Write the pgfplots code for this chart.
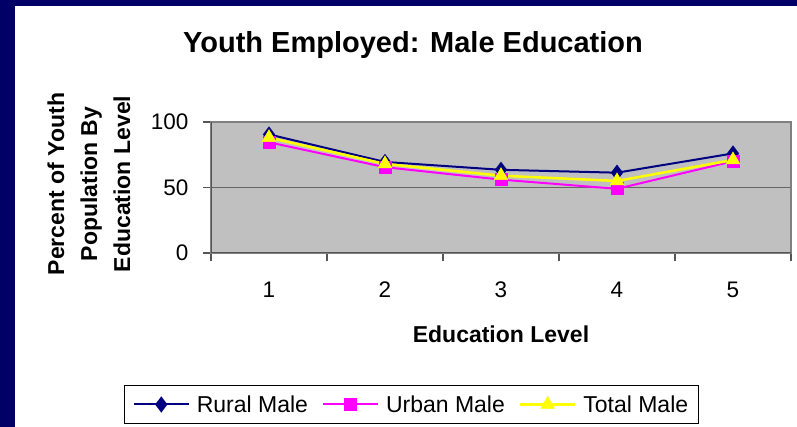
\documentclass[border=0pt]{standalone}
\usepackage{fontspec}
\setmainfont{Liberation Sans}
\usepackage{pgfplots}
\pgfplotsset{compat=1.18}
\definecolor{navybg}{RGB}{0,0,102}
\definecolor{rural}{RGB}{0,0,128}
\definecolor{urban}{RGB}{255,0,255}
\definecolor{total}{RGB}{255,255,0}
\definecolor{plotbg}{RGB}{192,192,192}
\definecolor{darkax}{RGB}{85,85,85}
\begin{document}
\begin{tikzpicture}[x=1pt,y=1pt]
\fill[navybg] (0,0) rectangle (797,427);
\path[use as bounding box] (0,0) rectangle (797,427);
\fill[white] (15,0) rectangle (797,421);
\node[anchor=base,font=\bfseries\fontsize{29}{35}\selectfont] at (413,374) {Youth Employed: Male Education};
\node[rotate=90,align=center,font=\bfseries\fontsize{23}{33}\selectfont] at (89,243) {Percent of Youth\\Population By\\Education Level};
\begin{axis}[
  at={(211pt,174pt)}, anchor=south west,
  scale only axis, width=580pt, height=131pt,
  xmin=0.5, xmax=5.5, ymin=0, ymax=100,
  axis background/.style={fill=plotbg},
  axis line style={draw=gray, line width=1.5pt},
  xtick={1,2,3,4,5}, major x tick style={draw=none},
  minor xtick={0.5,1.5,2.5,3.5,4.5,5.5},
  ytick={0,50,100},
  tick align=outside, tick pos=left,
  major tick length=8pt, minor tick length=8pt,
  every tick/.style={draw=darkax, line width=1.2pt},
  minor x tick style={draw=darkax, line width=1.2pt},
  major y tick style={draw=darkax, line width=1.2pt},
  ymajorgrids, grid style={draw=darkax!90, line width=1.3pt},
  /pgf/number format/assume math mode=true,
  ticklabel style={font=\fontsize{22.5}{27}\selectfont},
  xticklabel style={yshift=-17pt},
  yticklabel style={xshift=-11pt},
  xlabel={Education Level},
  xlabel style={font=\bfseries\fontsize{23}{28}\selectfont, at={(axis description cs:0.5,0)}, anchor=base, yshift=-90pt},
  legend columns=3,
  legend style={at={(axis description cs:0.3457,-1.1565)}, anchor=center, draw=black, line width=1pt, fill=white, font=\fontsize{23}{28}\selectfont, inner xsep=8pt, inner ysep=8pt, /tikz/every odd column/.append style={column sep=5pt}, /tikz/every even column/.append style={column sep=12pt}},
  legend image code/.code={\draw[mark repeat=2,mark phase=2,#1] plot coordinates {(0pt,0pt) (27.5pt,0pt) (55pt,0pt)};},
]
\addplot[color=rural, line width=2pt, mark=diamond*, mark size=6.5pt, mark options={solid, fill=rural}] coordinates {(1,90.5) (2,69.5) (3,63.5) (4,61.3) (5,76)};
\addlegendentry{Rural Male}
\addplot[color=urban, line width=2pt, mark=square*, mark size=5.5pt, mark options={solid, fill=urban}] coordinates {(1,84.5) (2,65.5) (3,56) (4,49) (5,70)};
\addlegendentry{Urban Male}
\addplot[color=total, line width=2.5pt, mark=triangle*, mark size=8pt, mark options={solid, fill=total, line width=0.5pt}] coordinates {(1,88) (2,68) (3,59) (4,55) (5,71)};
\addlegendentry{Total Male}
\draw[darkax, line width=2pt] (rel axis cs:0,1) -- (rel axis cs:0,0) -- (rel axis cs:1,0);
\end{axis}
\end{tikzpicture}
\end{document}
